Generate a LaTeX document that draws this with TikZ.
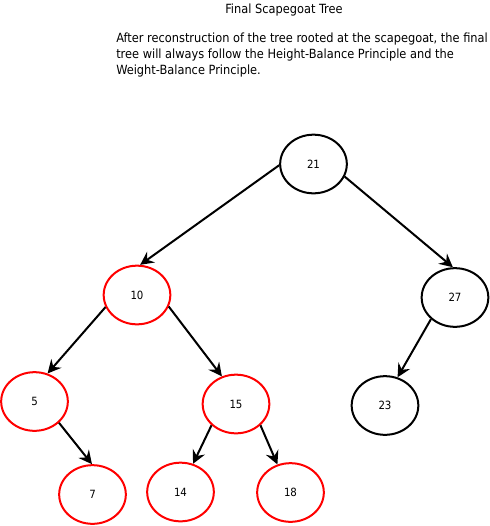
\documentclass[tikz,border=0pt]{standalone}
\usepackage{fontspec}
\setmainfont{DejaVu Sans Condensed}
\usetikzlibrary{shapes.geometric, arrows.meta, positioning}

\begin{document}
\begin{tikzpicture}[x=0.75pt, y=-0.75pt,
    treenode/.style={ellipse, draw, line width=1.5pt, minimum width=50pt, minimum height=44pt, inner sep=0pt, font=\fontsize{8.5}{10}\selectfont},
    rednode/.style={treenode, draw=red},
    edge/.style={line width=1.5pt, -{Stealth[length=10pt, width=10pt, inset=3.5pt]}},
    note/.style={font=\fontsize{9.5}{12}\selectfont, inner sep=0pt}]

\useasboundingbox (0,0) rectangle (490,526);

% --- Title and note ---
\node[note] (title) at (284,10) {Final Scapegoat Tree};
\node[note, anchor=north west, align=left] (text) at (116,33)
    {After reconstruction of the tree rooted at the scapegoat, the final\\
     tree will always follow the Height-Balance Principle and the\\
     Weight-Balance Principle.};

% --- Nodes: black ones stay, red ones were rebuilt ---
\foreach \name/\x/\y in {21/313.5/164, 27/455/297.5, 23/385/405.5}
{
    \node[treenode] (n\name) at (\x,\y) {\name};
}
\foreach \name/\x/\y in {10/137/295, 5/34.5/401.5, 15/236/404, 7/92.5/494.5, 14/180.5/492, 18/290.5/492.5}
{
    \node[rednode] (n\name) at (\x,\y) {\name};
}

% --- Edges (parent/angle/child/angle) ---
\foreach \a/\sa/\b/\sb in {21/182/10/84, 21/-22/27/94, 10/201/5/65, 10/-20/15/117,
                           27/222/23/66, 5/-41/7/91, 15/221/14/66, 15/-41/18/115}
{
    \draw[edge] (n\a.\sa) -- (n\b.\sb);
}

\end{tikzpicture}
\end{document}
